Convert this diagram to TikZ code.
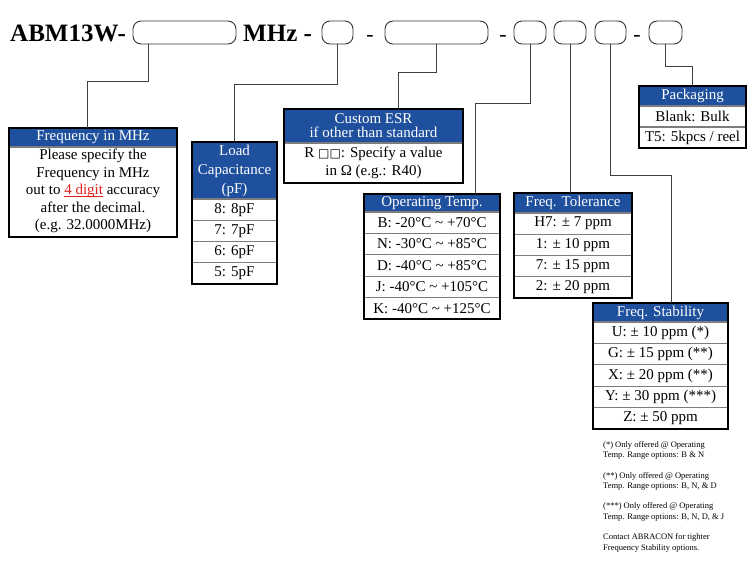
\documentclass[tikz,border=0pt]{standalone}
\usepackage{fontspec}
\setmainfont{Liberation Serif}
\newfontfamily\symfont{DejaVu Sans}
\definecolor{HdBlue}{RGB}{31, 80, 158}
\definecolor{RowGray}{RGB}{125, 125, 125}
\definecolor{DigitRed}{RGB}{225, 30, 30}
\usetikzlibrary{calc}
\newcommand{\digitul}[1]{\setbox0\hbox{#1}\rlap{\rule[-2.6pt]{\wd0}{0.9pt}}\box0}

\begin{document}
\begin{tikzpicture}[x=1pt, y=-1pt, font=\fontsize{15}{17.6}\selectfont,
  ttl/.style={anchor=base west, inner sep=0pt, font=\fontsize{25}{25}\selectfont\bfseries},
  dsh/.style={anchor=base, inner sep=0pt, font=\fontsize{22}{22}\selectfont},
  pb/.style={draw=black!80, rounded corners=8pt, line width=0.9pt, minimum height=23pt, inner sep=0pt, outer sep=0pt},
  hd/.style={draw=black, fill=HdBlue, text=white, line width=1.2pt, inner sep=0pt, outer sep=0pt, anchor=north west, align=center, minimum height=19pt},
  rw/.style={draw=RowGray, line width=1.2pt, inner sep=0pt, outer sep=0pt, anchor=north west, align=center, minimum height=21.4pt},
  fr/.style={draw=black, line width=1.5pt},
  ln/.style={draw=black!75, line width=1pt}]
\useasboundingbox (0,0) rectangle (754,563);

% part number with its blank fields
\node[ttl] (pn) at (10,41) {ABM13W-};
\node[pb, minimum width=103pt] (f1) at (184.5,32.5) {};
\node[ttl] (mhz) at (243,41) {MHz -};
\node[pb, minimum width=31pt] (f2) at (337.5,32.5) {};
\node[dsh] (d1) at (370,41) {-};
\node[pb, minimum width=103pt] (f3) at (436.5,32.5) {};
\node[dsh] (d2) at (503,41) {-};
\node[pb, minimum width=32pt] (f4) at (530,32.5) {};
\node[pb, minimum width=32pt] (f5) at (570,32.5) {};
\node[pb, minimum width=31pt] (f6) at (610.5,32.5) {};
\node[dsh] (d3) at (637,41) {-};
\node[pb, minimum width=33pt] (f7) at (665.5,32.5) {};

% frequency
\node[hd, minimum width=168pt] (fh) at (9,128) {Frequency in MHz};
\node[rw, minimum width=168pt, minimum height=90pt] (fb) at (fh.south west) {Please specify the\\Frequency in MHz\\out to \textcolor{DigitRed}{\digitul{4 digit}} accuracy\\after the decimal.\\(e.g. 32.0000MHz)\strut};
\draw[fr] (fh.north west) rectangle (fb.south east);

% load capacitance
\node[hd, minimum width=85pt, minimum height=57pt, font=\fontsize{15}{19}\selectfont] (lh) at (192,142) {Load\\Capacitance\\(pF)};
\node[rw, minimum width=85pt, minimum height=21.25pt] (l1) at (lh.south west) {8: 8pF};
\node[rw, minimum width=85pt, minimum height=21.25pt] (l2) at (l1.south west) {7: 7pF};
\node[rw, minimum width=85pt, minimum height=21.25pt] (l3) at (l2.south west) {6: 6pF};
\node[rw, minimum width=85pt, minimum height=21.25pt] (l4) at (l3.south west) {5: 5pF};
\draw[fr] (lh.north west) rectangle (l4.south east);

% custom ESR
\node[hd, minimum width=179pt, minimum height=34pt, font=\fontsize{15}{14}\selectfont] (eh) at (284,109) {Custom ESR\\if other than standard};
\node[rw, minimum width=179pt, minimum height=40pt, font=\fontsize{15}{18}\selectfont] (eb) at (eh.south west) {R {\symfont\fontsize{12}{12}\selectfont □□}: Specify a value\\in Ω (e.g.: R40)};
\draw[fr] (eh.north west) rectangle (eb.south east);

% operating temp
\node[hd, minimum width=136pt, minimum height=18pt] (oh) at (364,194) {Operating Temp.};
\node[rw, minimum width=136pt] (o1) at (oh.south west) {B: -20°C \char"007E{} +70°C};
\node[rw, minimum width=136pt] (o2) at (o1.south west) {N: -30°C \char"007E{} +85°C};
\node[rw, minimum width=136pt] (o3) at (o2.south west) {D: -40°C \char"007E{} +85°C};
\node[rw, minimum width=136pt] (o4) at (o3.south west) {J: -40°C \char"007E{} +105°C};
\node[rw, minimum width=136pt] (o5) at (o4.south west) {K: -40°C \char"007E{} +125°C};
\draw[fr] (oh.north west) rectangle (o5.south east);

% frequency tolerance
\node[hd, minimum width=118pt, minimum height=20pt] (th) at (514,193) {Freq. Tolerance};
\node[rw, minimum width=118pt, minimum height=21.25pt] (t1) at (th.south west) {H7: ± 7 ppm};
\node[rw, minimum width=118pt, minimum height=21.25pt] (t2) at (t1.south west) {1: ± 10 ppm};
\node[rw, minimum width=118pt, minimum height=21.25pt] (t3) at (t2.south west) {7: ± 15 ppm};
\node[rw, minimum width=118pt, minimum height=21.25pt] (t4) at (t3.south west) {2: ± 20 ppm};
\draw[fr] (th.north west) rectangle (t4.south east);

% packaging
\node[hd, minimum width=107pt, minimum height=20pt] (ph) at (639,86) {Packaging};
\node[rw, minimum width=107pt, minimum height=21pt] (p1) at (ph.south west) {Blank: Bulk};
\node[rw, minimum width=107pt, minimum height=21pt] (p2) at (p1.south west) {T5: 5kpcs / reel};
\draw[fr] (ph.north west) rectangle (p2.south east);

% frequency stability
\node[hd, minimum width=135pt] (sh) at (593,303) {Freq. Stability};
\node[rw, minimum width=135pt] (s1) at (sh.south west) {U: ± 10 ppm (*)};
\node[rw, minimum width=135pt] (s2) at (s1.south west) {G: ± 15 ppm (**)};
\node[rw, minimum width=135pt] (s3) at (s2.south west) {X: ± 20 ppm (**)};
\node[rw, minimum width=135pt] (s4) at (s3.south west) {Y: ± 30 ppm (***)};
\node[rw, minimum width=135pt] (s5) at (s4.south west) {Z: ± 50 ppm};
\draw[fr] (sh.north west) rectangle (s5.south east);

\node[anchor=north west, align=left, inner sep=0pt, font=\fontsize{8.5}{10.3}\selectfont] (nt) at (603,441) {(*) Only offered @ Operating\\Temp. Range options: B \& N\\[10.3pt](**) Only offered @ Operating\\Temp. Range options: B, N, \& D\\[10.3pt](***) Only offered @ Operating\\Temp. Range options: B, N, D, \& J\\[10.3pt]Contact ABRACON for tighter\\Frequency Stability options.};

% connectors
\draw[ln] ($(f1.south)+(-36.5,0)$) -- ++(0,37) -| ($(fh.north)+(-6,0)$);
\draw[ln] (f2.south) -- ++(0,40) -| (lh.north);
\draw[ln] (f3.south) -- ++(0,28) -| ($(eh.north)+(24.5,0)$);
\draw[ln] (f4.south) -- ++(0,59) -| ($(oh.north)+(43,0)$);
\draw[ln] (f5.south) -- (f5.south |- th.north);
\draw[ln] (f6.south) -- ++(0,131) -| ($(sh.north)+(10.5,0)$);
\draw[ln] (f7.south) -- ++(0,22) -| (ph.north);
\end{tikzpicture}
\end{document}
